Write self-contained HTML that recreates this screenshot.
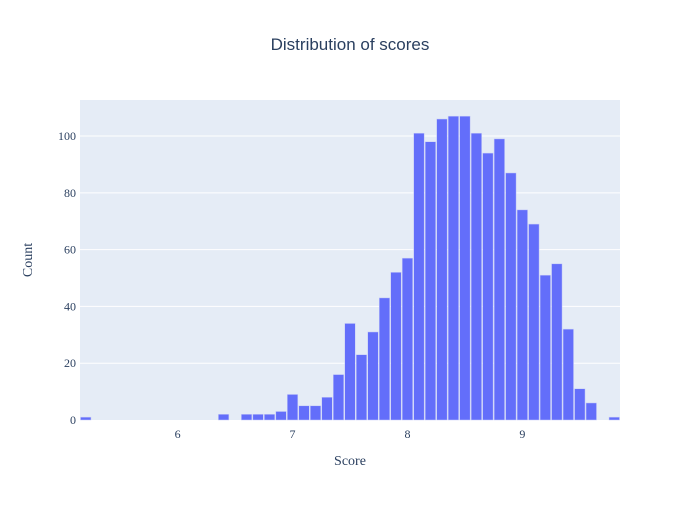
<!DOCTYPE html>
<html><head><meta charset="utf-8"><style>
body{margin:0;background:#fff}
svg{font-family:"Liberation Sans",sans-serif}
</style></head><body>
<svg id="c" width="700" height="500" xmlns="http://www.w3.org/2000/svg">
<rect x="80" y="100" width="540" height="320" fill="#e5ecf6"/>
<g id="grid"></g><g id="bars"></g><g id="ticks"></g>
<text x="350" y="50" text-anchor="middle" font-size="17" fill="#2a3f5f">Distribution of scores</text>
<text x="350" y="465" text-anchor="middle" font-size="14" fill="#2a3f5f" font-family="Liberation Serif, serif">Score</text>
<text x="0" y="0" transform="translate(32,260) rotate(-90)" text-anchor="middle" font-size="14" fill="#2a3f5f" font-family="Liberation Serif, serif">Count</text>
</svg>
<script>
const binStart = 5.15;
const binWidth = 0.1;
const counts = [1,0,0,0,0,0,0,0,0,0,0,0,2,0,2,2,2,3,9,5,5,8,16,34,23,31,43,52,57,101,98,106,107,107,101,94,99,87,74,69,51,55,32,11,6,0,1];
const xTicks = [6,7,8,9];
const yTicks = [0,20,40,60,80,100];
const xMin=5.15, xMax=9.85, yMax=112.7;
const X=v=>80+(v-xMin)/(xMax-xMin)*540;
const Y=v=>420-v/yMax*320;
const NS="http://www.w3.org/2000/svg";
function mk(t,a,p){const e=document.createElementNS(NS,t);for(const k in a)e.setAttribute(k,a[k]);p.appendChild(e);return e;}
const grid=document.getElementById('grid'),bars=document.getElementById('bars'),ticks=document.getElementById('ticks');
yTicks.forEach(v=>{
  if(v>0){const l=mk('line',{x1:80,x2:620,y1:Y(v),y2:Y(v),stroke:'#fff','stroke-width':1},grid);
  
  }
  const t=mk('text',{x:76,y:Y(v)+4,'text-anchor':'end','font-size':12,fill:'#2a3f5f','font-family':'Liberation Serif, serif'},ticks);
  t.textContent=v;
  
  
});
xTicks.forEach(v=>{
  const t=mk('text',{x:X(v),y:438,'text-anchor':'middle','font-size':12,fill:'#2a3f5f','font-family':'Liberation Serif, serif'},ticks);
  t.textContent=v;
  
  
});
counts.forEach((c,i)=>{
  if(!c)return;
  const x0=X(binStart+i*binWidth),x1=X(binStart+(i+1)*binWidth);
  const r=mk('rect',{x:x0+0.5,y:Y(c),width:x1-x0-1,height:420-Y(c),fill:'#636efa',stroke:'#c8cdf8','stroke-width':0.5},bars);
  
  
});
</script>
</body></html>
